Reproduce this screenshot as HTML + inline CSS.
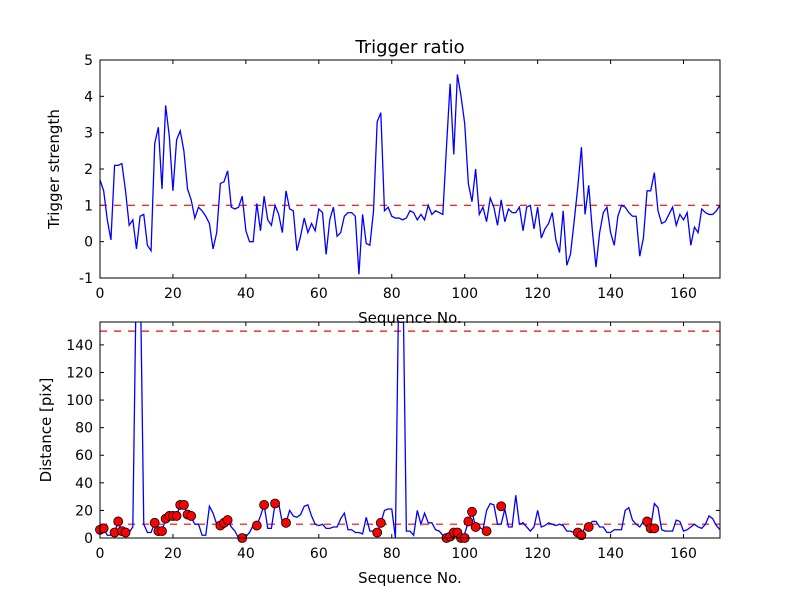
<!DOCTYPE html>
<html><head><meta charset="utf-8"><style>
body{margin:0;background:#fff}
svg{display:block;font-family:"DejaVu Sans","Liberation Sans",sans-serif}
</style></head><body>
<svg id="c" width="800" height="600"></svg>
<script>
const topValues=[1.7,1.4,0.6,0.05,2.1,2.1,2.15,1.4,0.45,0.6,-0.2,0.7,0.75,-0.1,-0.25,2.7,3.15,1.45,3.75,2.9,1.4,2.8,3.05,2.5,1.45,1.15,0.65,0.95,0.85,0.7,0.5,-0.2,0.25,1.6,1.65,1.95,0.95,0.9,0.95,1.25,0.3,0.0,0.0,1.05,0.3,1.25,0.6,0.45,1.0,0.75,0.25,1.4,0.9,0.85,-0.25,0.15,0.65,0.25,0.5,0.3,0.9,0.8,-0.35,0.6,0.95,0.15,0.25,0.7,0.8,0.8,0.7,-0.9,0.75,-0.05,-0.1,0.85,3.3,3.55,0.85,0.95,0.7,0.65,0.65,0.6,0.65,0.85,0.8,0.6,0.75,0.6,1.0,0.75,0.85,0.8,0.75,2.6,4.35,2.4,4.6,4.0,3.25,1.6,1.1,2.0,0.75,0.95,0.55,1.2,0.95,0.45,1.15,0.55,0.9,0.8,0.8,0.95,0.3,0.95,1.0,0.35,0.95,0.1,0.35,0.5,0.8,0.05,-0.3,0.85,-0.65,-0.35,0.55,1.5,2.6,0.75,1.55,0.3,-0.7,0.25,0.8,0.95,0.25,-0.1,0.7,1.0,0.95,0.8,0.7,0.7,-0.4,0.1,1.4,1.4,1.9,0.85,0.5,0.55,0.75,0.95,0.45,0.75,0.6,0.8,-0.1,0.4,0.25,0.9,0.8,0.75,0.75,0.85,1.0];
const distValues=[7,7,2,2,4,12,4,4,4,8,200,200,10,4,4,11,5,5,14,15,16,16,24,24,17,15,10,10,2,2,23,18,10,9,11,13,8,5,0,1,1,4,9,9,16,24,7,7,25,25,11,11,20,16,15,17,23,24,16,10,9,10,7,7,8,8,14,18,6,6,4,4,3,15,5,5,4,11,20,21,21,0,200,200,5,5,2,20,10,18,11,11,6,5,2,0,2,4,4,0,3,12,19,8,8,6,20,25,24,10,10,21,8,8,31,10,11,8,5,8,20,8,9,11,10,9,10,9,5,5,4,3,2,8,9,12,12,8,8,4,4,6,6,6,20,22,13,10,8,12,7,8,25,22,6,5,5,5,13,12,5,6,8,10,8,7,10,16,14,9,6];
const dotIdx=[0,1,4,5,6,7,15,16,17,18,19,20,21,22,23,24,25,33,34,35,39,43,45,48,51,76,77,95,96,97,98,99,100,101,102,103,106,110,131,132,134,150,151,152];
const dotVals=[6,7,4,12,5,4,11,5,5,14,16,16,16,24,24,17,16,9,11,13,0,9,24,25,11,4,11,0,1,4,4,0,0,12,19,8,5,23,4,2,8,12,7,7];
const xTicks=[0,20,40,60,80,100,120,140,160];
const topTicks=[-1,0,1,2,3,4,5];
const botTicks=[0,20,40,60,80,100,120,140];
const topThreshold=1, botThresholds=[10,150];

const NS="http://www.w3.org/2000/svg";
const svg=document.getElementById('c');
function mk(t,a,p){const e=document.createElementNS(NS,t);for(const k in a)e.setAttribute(k,a[k]);(p||svg).appendChild(e);return e;}
const L=100,R=720;
const xs=v=>L+(v/170)*(R-L);
const A={t:60,b:278,min:-1,max:5};
const B={t:322,b:538,min:0,max:156.6};
const ys=(ax,v)=>ax.b-(v-ax.min)/(ax.max-ax.min)*(ax.b-ax.t);

mk('defs',{}).innerHTML='<clipPath id="ca"><rect x="100" y="60" width="620" height="218"/></clipPath><clipPath id="cb"><rect x="100" y="322" width="620" height="216"/></clipPath>';

function axes(ax,ticks,name,ylabel,ylx){
  const g=mk('g',{});
  
  
  xTicks.forEach(t=>{const x=xs(t);
    mk('line',{x1:x,x2:x,y1:ax.b,y2:ax.b-4,stroke:'#000'},g);
    mk('line',{x1:x,x2:x,y1:ax.t,y2:ax.t+4,stroke:'#000'},g);
    const tx=mk('text',{x:x,y:ax.b+20,'text-anchor':'middle','font-size':14},g);tx.textContent=t;
    
  });
  ticks.forEach(t=>{const y=ys(ax,t);
    mk('line',{x1:L,x2:L+4,y1:y,y2:y,stroke:'#000'},g);
    mk('line',{x1:R,x2:R-4,y1:y,y2:y,stroke:'#000'},g);
    const tx=mk('text',{x:L-7,y:y+5,'text-anchor':'end','font-size':14},g);tx.textContent=t;
    
  });
  const xl=mk('text',{x:410,y:ax.b+45,'text-anchor':'middle','font-size':15},g);xl.textContent='Sequence No.';
  
  const cy=(ax.t+ax.b)/2;
  const yl=mk('text',{x:ylx,y:cy,'text-anchor':'middle','font-size':15,transform:`rotate(-90 ${ylx} ${cy})`},g);yl.textContent=ylabel;
  
  return g;
}
axes(A,topTicks,'top-axes','Trigger strength',59);
axes(B,botTicks,'bottom-axes','Distance [pix]',51);

const title=mk('text',{x:410,y:53,'text-anchor':'middle','font-size':18});title.textContent='Trigger ratio';


const ga=mk('g',{'clip-path':'url(#ca)'});
const th=mk('line',{x1:L,x2:R,y1:ys(A,topThreshold),y2:ys(A,topThreshold),stroke:'red','stroke-width':1.2,'stroke-dasharray':'7,7'},ga);

const pa=mk('polyline',{points:topValues.map((v,i)=>xs(i)+','+ys(A,v)).join(' '),fill:'none',stroke:'blue','stroke-width':1.3},ga);


const gb=mk('g',{'clip-path':'url(#cb)'});
botThresholds.forEach(t=>{const l=mk('line',{x1:L,x2:R,y1:ys(B,t),y2:ys(B,t),stroke:'red','stroke-width':1.2,'stroke-dasharray':'7,7'},gb);
  });
const pb=mk('polyline',{points:distValues.map((v,i)=>xs(i)+','+ys(B,v)).join(' '),fill:'none',stroke:'blue','stroke-width':1.3},gb);

const gd=mk('g',{});
dotIdx.forEach((ix,k)=>{const c=mk('circle',{cx:xs(ix),cy:ys(B,dotVals[k]),r:4.5,fill:'red',stroke:'#000','stroke-width':0.8},gd);
  });

[A,B].forEach(ax=>{const r=mk('rect',{x:L,y:ax.t,width:R-L,height:ax.b-ax.t,fill:'none',stroke:'#000','stroke-width':1});
  });
</script>
</body></html>
